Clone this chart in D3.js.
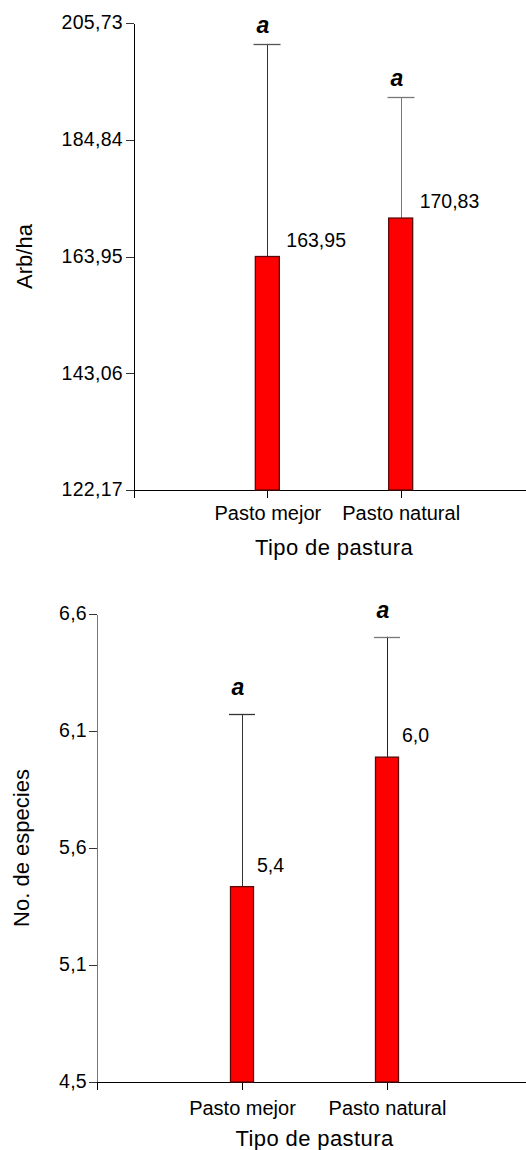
<!DOCTYPE html>
<html>
<head>
<meta charset="utf-8">
<script src="https://cdn.jsdelivr.net/npm/d3@7"></script>
<style>
  html, body { margin: 0; padding: 0; background: #fff; }
  svg { display: block; }
  text { font-family: "Liberation Sans", Arial, sans-serif; fill: #000; }
</style>
</head>
<body>
<svg id="chart" width="526" height="1150"></svg>
<script>
// ---------- data ----------
const categories = ["Pasto mejor", "Pasto natural"];
const letters = ["a", "a"];

// Chart 1: Arb/ha
const arbMeans = [163.95, 170.83];
const arbErrTop = [202.0, 192.4];
const arbTicks = [122.17, 143.06, 163.95, 184.84, 205.73];
const arbTickLabels = ["122,17", "143,06", "163,95", "184,84", "205,73"];
const arbValueLabels = ["163,95", "170,83"];

// Chart 2: No. de especies
const spMeans = [5.40, 5.97];
const spErrTop = [6.16, 6.50];
const spTicks = [4.54, 5.055, 5.57, 6.085, 6.60];
const spTickLabels = ["4,5", "5,1", "5,6", "6,1", "6,6"];
const spValueLabels = ["5,4", "6,0"];

const xTitle = "Tipo de pastura";

const svg = d3.select("#chart");

function drawChart(cfg) {
  const g = svg.append("g");
  const x = d3.scaleLinear().domain([0, 3]).range([cfg.left, cfg.right]);
  const y = d3.scaleLinear().domain([cfg.ticks[0], cfg.ticks[cfg.ticks.length - 1]]).range([cfg.bottom, cfg.top]);

  // y axis
  const yAxis = d3.axisLeft(y)
    .tickValues(cfg.ticks)
    .tickFormat((d, i) => cfg.tickLabels[i])
    .tickSize(8).tickSizeOuter(0).tickPadding(cfg.yPad);
  const ya = g.append("g").attr("transform", `translate(${cfg.left},0)`).call(yAxis);
  ya.selectAll("text").style("font-size", "19.5px").attr("dy", "0.30em").style("letter-spacing", "0.3px");
  ya.select(".domain").attr("stroke", cfg.yAxisColor);
  ya.selectAll(".tick line").attr("stroke", "#333");

  // x axis
  const xAxis = d3.axisBottom(x)
    .tickValues([1, 2])
    .tickFormat((d, i) => categories[i])
    .tickSize(8).tickSizeOuter(8).tickPadding(cfg.xPad);
  const xa = g.append("g").attr("transform", `translate(0,${cfg.bottom})`).call(xAxis);
  xa.selectAll("text").style("font-size", "20px");
  xa.select(".domain").attr("stroke", "#000");
  svg.selectAll(".tick line, .domain").attr("shape-rendering", "crispEdges");

  // error bars
  cfg.errTop.forEach((v, i) => {
    const cx = Math.round(x(i + 1));
    g.append("line")
      .attr("x1", cx + 0.5).attr("x2", cx + 0.5)
      .attr("y1", y(cfg.means[i])).attr("y2", y(v))
      .attr("stroke", cfg.whiskerColors[i]).attr("stroke-width", 1);
    g.append("line")
      .attr("x1", cx - cfg.capW / 2).attr("x2", cx + cfg.capW / 2)
      .attr("y1", Math.round(y(v)) + 0.5).attr("y2", Math.round(y(v)) + 0.5)
      .attr("stroke", cfg.capColors[i]).attr("stroke-width", 1.3);
    g.append("text")
      .attr("x", cx - 4).attr("y", y(v) - cfg.letterGap)
      .attr("text-anchor", "middle")
      .style("font-size", "23px").style("font-weight", "bold").style("font-style", "italic")
      .text(letters[i]);
  });

  // bars
  g.selectAll("rect.bar").data(cfg.means).enter().append("rect")
    .attr("class", "bar")
    .attr("x", (d, i) => x(i + 1) - cfg.barW / 2)
    .attr("width", cfg.barW)
    .attr("y", d => y(d))
    .attr("height", d => y(cfg.ticks[0]) - y(d))
    .attr("fill", "#ff0000")
    .attr("stroke", "#5a0a0a")
    .attr("stroke-width", 1.3);

  // value labels
  cfg.means.forEach((v, i) => {
    g.append("text")
      .attr("x", x(i + 1) + cfg.valDx).attr("y", y(v) - cfg.valDy)
      .style("font-size", "19.5px")
      .text(cfg.valueLabels[i]);
  });

  // x title
  g.append("text")
    .attr("x", (cfg.left + cfg.right) / 2).attr("y", cfg.xTitleY)
    .attr("text-anchor", "middle")
    .style("font-size", "22px").style("letter-spacing", "0.4px")
    .text(xTitle);

  // y title
  g.append("text")
    .attr("transform", `translate(${cfg.yTitleX},${(cfg.top + cfg.bottom) / 2}) rotate(-90)`)
    .attr("text-anchor", "middle")
    .style("font-size", "22px")
    .text(cfg.yTitle);
}

drawChart({
  left: 134, right: 534, top: 23, bottom: 490,
  ticks: arbTicks, tickLabels: arbTickLabels,
  means: arbMeans, errTop: arbErrTop, valueLabels: arbValueLabels,
  yTitle: "Arb/ha", yTitleX: 32, xTitleY: 555,
  yPad: 3, xPad: 8, yAxisColor: "#000",
  barW: 24, capW: 27, letterGap: 11,
  valDx: 19, valDy: 10,
  whiskerColors: ["#333", "#777"], capColors: ["#555", "#777"]
});

drawChart({
  left: 97, right: 532, top: 614, bottom: 1082,
  ticks: spTicks, tickLabels: spTickLabels,
  means: spMeans, errTop: spErrTop, valueLabels: spValueLabels,
  yTitle: "No. de especies", yTitleX: 29, xTitleY: 1146,
  yPad: 2, xPad: 11, yAxisColor: "#777",
  barW: 23, capW: 26, letterGap: 19,
  valDx: 15, valDy: 15,
  whiskerColors: ["#333", "#222"], capColors: ["#333", "#777"]
});
</script>
</body>
</html>
